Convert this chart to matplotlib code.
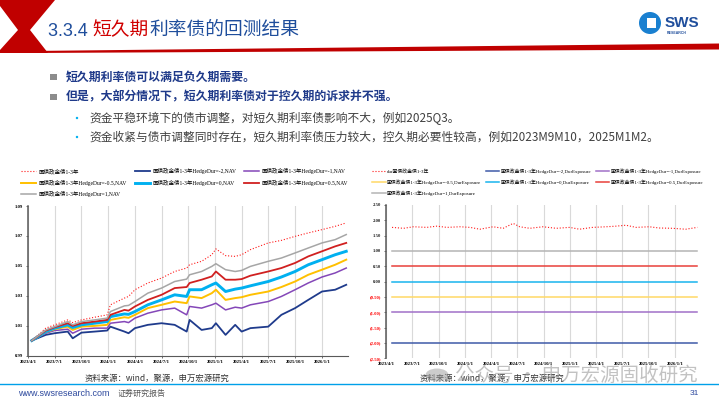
import numpy as np
import pandas as pd
import matplotlib
matplotlib.use("Agg")
import matplotlib.pyplot as plt
from matplotlib.patches import Polygon, Circle, Rectangle

plt.rcParams['font.family'] = ['Noto Sans CJK SC', 'DejaVu Sans']

W, H = 719, 405
SERIF = ['Liberation Serif', 'Noto Sans CJK SC']
SANS = ['Liberation Sans', 'Noto Sans CJK SC']

# ---------------- left chart: NAV backtest ----------------
nav_dates = pd.to_datetime([
    '2023-04-14', '2023-06-01', '2023-07-01', '2023-08-15', '2023-09-01',
    '2023-10-01', '2023-11-15', '2023-12-28', '2024-01-08', '2024-02-25',
    '2024-03-10', '2024-04-01', '2024-05-15', '2024-07-01', '2024-08-15',
    '2024-09-25', '2024-10-05', '2024-11-15', '2024-12-20', '2025-01-03',
    '2025-02-05', '2025-03-10', '2025-04-01', '2025-05-01', '2025-07-01',
    '2025-08-15', '2025-10-01', '2025-11-15', '2026-01-01', '2026-02-15',
    '2026-03-25'])
nav_bond = [1.0000, 1.0083, 1.0105, 1.0138, 1.0120, 1.0138, 1.0156, 1.0172, 1.0239, 1.0284,
            1.0295, 1.0340, 1.0385, 1.0418, 1.0462, 1.0485, 1.0507, 1.0530, 1.0574, 1.0613,
            1.0568, 1.0563, 1.0574, 1.0608, 1.0653, 1.0670, 1.0697, 1.0720, 1.0742, 1.0764,
            1.0787]
nav_hd_m2 = [1.0000, 1.0038, 1.0049, 1.0060, 1.0015, 1.0053, 1.0060, 1.0067, 1.0093, 1.0060,
             1.0049, 1.0083, 1.0105, 1.0116, 1.0105, 1.0060, 1.0138, 1.0071, 1.0083, 1.0116,
             1.0038, 1.0105, 1.0060, 1.0083, 1.0093, 1.0172, 1.0217, 1.0272, 1.0328, 1.0340,
             1.0373]
nav_hd_m1 = [1.0000, 1.0049, 1.0067, 1.0076, 1.0049, 1.0076, 1.0083, 1.0083, 1.0116, 1.0127,
             1.0120, 1.0150, 1.0183, 1.0205, 1.0217, 1.0172, 1.0228, 1.0217, 1.0239, 1.0250,
             1.0205, 1.0223, 1.0217, 1.0239, 1.0261, 1.0295, 1.0340, 1.0385, 1.0425, 1.0452,
             1.0485]
nav_hd_m05 = [1.0000, 1.0056, 1.0076, 1.0093, 1.0071, 1.0093, 1.0098, 1.0105, 1.0138, 1.0156,
              1.0152, 1.0172, 1.0217, 1.0239, 1.0261, 1.0250, 1.0295, 1.0284, 1.0317, 1.0340,
              1.0272, 1.0284, 1.0290, 1.0306, 1.0328, 1.0358, 1.0395, 1.0440, 1.0474, 1.0507,
              1.0541]
nav_hd_0 = [1.0000, 1.0060, 1.0083, 1.0105, 1.0087, 1.0105, 1.0116, 1.0127, 1.0160, 1.0178,
            1.0175, 1.0194, 1.0239, 1.0272, 1.0306, 1.0295, 1.0340, 1.0340, 1.0373, 1.0385,
            1.0328, 1.0344, 1.0351, 1.0366, 1.0395, 1.0425, 1.0462, 1.0507, 1.0541, 1.0574,
            1.0597]
nav_hd_05 = [1.0000, 1.0067, 1.0089, 1.0116, 1.0098, 1.0116, 1.0127, 1.0138, 1.0172, 1.0205,
             1.0200, 1.0228, 1.0272, 1.0306, 1.0351, 1.0358, 1.0385, 1.0407, 1.0429, 1.0462,
             1.0407, 1.0407, 1.0411, 1.0434, 1.0462, 1.0485, 1.0519, 1.0563, 1.0597, 1.0630,
             1.0653]
nav_hd_1 = [1.0000, 1.0071, 1.0093, 1.0127, 1.0105, 1.0127, 1.0138, 1.0150, 1.0194, 1.0232,
            1.0235, 1.0261, 1.0317, 1.0351, 1.0395, 1.0411, 1.0440, 1.0462, 1.0496, 1.0514,
            1.0474, 1.0462, 1.0469, 1.0496, 1.0530, 1.0552, 1.0586, 1.0619, 1.0653, 1.0675,
            1.0709]

# ---------------- right chart: duration exposure ----------------
dur_dates = pd.to_datetime([
    '2023-04-22', '2023-06-01', '2023-07-06', '2023-08-21', '2023-09-25', '2023-10-30',
    '2023-12-15', '2024-01-19', '2024-02-22', '2024-04-08', '2024-05-13', '2024-06-17',
    '2024-07-10', '2024-08-14', '2024-09-29', '2024-11-14', '2024-12-31', '2025-02-03',
    '2025-03-21', '2025-05-07', '2025-06-10', '2025-07-15', '2025-08-19', '2025-10-04',
    '2025-11-08', '2025-12-24', '2026-02-08', '2026-03-21'])
dur_bond = [1.77, 1.74, 1.79, 1.77, 1.81, 1.77, 1.79, 1.77, 1.71, 1.79, 1.74, 1.90, 1.79, 1.74,
            1.79, 1.74, 1.77, 1.71, 1.77, 1.79, 1.81, 1.84, 1.77, 1.79, 1.75, 1.74, 1.71, 1.77]
hedge_span = pd.to_datetime(['2023-04-22', '2026-03-21'])
hedge_levels = [-2, -1, -0.5, 0, 0.5, 1]

tick_dates = pd.date_range('2023-04-01', '2026-01-01', freq='QS')
tick_labels = [f"{d.year}/{d.month}/{d.day}" for d in tick_dates]

nav_series = [
    ('国债政金债1-3年', nav_bond, '#ff1a1a', 0.8, ':'),
    ('国债政金债1-3年HedgeDur=-2,NAV', nav_hd_m2, '#1f3b8c', 1.3, '-'),
    ('国债政金债1-3年HedgeDur=-1,NAV', nav_hd_m1, '#8447b8', 1.1, '-'),
    ('国债政金债1-3年HedgeDur=-0.5,NAV', nav_hd_m05, '#ffc000', 1.4, '-'),
    ('国债政金债1-3年HedgeDur=0,NAV', nav_hd_0, '#00b0f0', 2.1, '-'),
    ('国债政金债1-3年HedgeDur=0.5,NAV', nav_hd_05, '#d02020', 1.3, '-'),
    ('国债政金债1-3年HedgeDur=1,NAV', nav_hd_1, '#a6a6a6', 1.1, '-'),
]
exp_colors = {-2: '#3f5aa8', -1: '#a070c8', -0.5: '#ffd966', 0: '#19b4ee', 0.5: '#e8403a', 1: '#b4b4b4'}


def px_box(l, t, r, b):
    return [l / W, 1 - b / H, (r - l) / W, (b - t) / H]


def row_order(items):
    # legend fills column-wise; reorder so that rows read left to right
    return [items[i] for i in (0, 3, 6, 1, 4, 2, 5)]


fig = plt.figure(figsize=(W / 100, H / 100), dpi=100)
bg = fig.add_axes([0, 0, 1, 1])
bg.set_xlim(0, W)
bg.set_ylim(H, 0)
bg.axis('off')

# header: red chevron, rule, title, logo
bg.add_patch(Polygon([(0, 0), (55, 0), (30, 30), (48, 53), (0, 53)], closed=True, color='#c00000', lw=0))
bg.add_patch(Polygon([(0, 6), (18, 30), (0, 50)], closed=True, color='white', lw=0))
bg.add_patch(Polygon([(30, 53), (719, 49.5), (719, 43.5), (30, 51)], closed=True, color='#c00000', lw=0))

t1 = bg.text(48, 36, '3.3.4 ', fontsize=13, color='#1f4e9c', family=SANS, va='baseline')
t2 = bg.annotate('短久期', xy=(1, 0), xycoords=t1, fontsize=13.5, color='#d00000', va='bottom')
bg.annotate('利率债的回测结果', xy=(1, 0), xycoords=t2, fontsize=13.5, color='#1f4e9c', va='bottom')

bg.add_patch(Circle((650, 23), 11, color='#1a80d0', lw=0))
bg.add_patch(Rectangle((647, 18), 9, 10, color='white', lw=0))
bg.text(665, 23, 'SWS', fontsize=11, weight='bold', color='#1f4e9c', family=SANS, va='center')
bg.text(667, 33.5, 'RESEARCH', fontsize=2.5, weight='bold', color='#1f4e9c', family=SANS, va='center')

# bullets
bullets = [
    (77, '短久期利率债可以满足负久期需要。', 1),
    (97, '但是，大部分情况下，短久期利率债对于控久期的诉求并不强。', 1),
    (118, '资金平稳环境下的债市调整，对短久期利率债影响不大，例如2025Q3。', 2),
    (137, '资金收紧与债市调整同时存在，短久期利率债压力较大，控久期必要性较高，例如2023M9M10，2025M1M2。', 2),
]
for y, txt, level in bullets:
    if level == 1:
        bg.add_patch(Rectangle((50, y - 3.5), 6.5, 6.5, color='#8c8c8c', lw=0))
        bg.text(66, y, txt, fontsize=8.6, weight='bold', color='#1f3a8a', va='center')
    else:
        bg.add_patch(Circle((77, y), 1.2, color='#00b0f0', lw=0))
        bg.text(89, y, txt, fontsize=8.45, color='#404040', va='center')

# sources and footer
bg.text(85, 378, '资料来源：wind，聚源，申万宏源研究', fontsize=6, color='#333333', va='center')
bg.text(420, 378, '资料来源：wind，聚源，申万宏源研究', fontsize=6, color='#333333', va='center')
bg.plot([0, W], [384, 384], color='#00a0e9', lw=1)
bg.text(18, 393.5, 'www.swsresearch.com', fontsize=6.5, color='#2e4a9e', family=SANS, va='center')
bg.text(118, 393.5, '证券研究报告', fontsize=5.8, color='#555555', va='center')
bg.text(699, 393.5, '31', fontsize=6, color='#2e4a9e', family=SANS, va='center', ha='right')

# ---------------- left chart ----------------
ax1 = fig.add_axes(px_box(28, 206, 348, 355.5))
handles = []
for label, vals, color, lw, ls in nav_series:
    line, = ax1.plot(nav_dates, vals, color=color, lw=lw, ls=ls, label=label)
    handles.append(line)
ax1.set_xlim(pd.Timestamp('2023-04-01'), pd.Timestamp('2026-03-31'))
ax1.set_ylim(0.99, 1.09)
ax1.set_yticks(np.arange(0.99, 1.0901, 0.02))
ax1.set_yticklabels([f"{v:.2f}" for v in np.arange(0.99, 1.0901, 0.02)])
ax1.set_xticks(tick_dates)
ax1.set_xticklabels(tick_labels)
ax1.grid(axis='x', color='#d9d9d9', lw=0.8)
ax1.set_axisbelow(True)
for s in ('top', 'right'):
    ax1.spines[s].set_visible(False)
ax1.spines['left'].set_color('#595959')
ax1.spines['left'].set_linewidth(1.1)
ax1.spines['bottom'].set_color('#595959')
ax1.spines['bottom'].set_linewidth(0.8)
ax1.tick_params(axis='both', length=1.5, width=0.6, color='#595959', pad=2)
for lab in ax1.get_xticklabels() + ax1.get_yticklabels():
    lab.set_fontfamily(SERIF)
    lab.set_fontweight('bold')
    lab.set_fontsize(3.4)
ax1.legend(handles=row_order(handles), loc='upper left', bbox_to_anchor=(21 / W, 1 - 168 / H),
           bbox_transform=fig.transFigure, ncol=3, frameon=False, prop={'family': SERIF, 'size': 4},
           handlelength=2.7, handletextpad=0.4, columnspacing=1.5, labelspacing=0.95,
           borderaxespad=0, borderpad=0)

# ---------------- right chart ----------------
ax2 = fig.add_axes(px_box(386, 205, 698, 358.3))
h2 = []
line, = ax2.plot(dur_dates, dur_bond, color='#ff1a1a', lw=0.8, ls=':', label='dur国债政金债1-3年')
h2.append(line)
for lv in hedge_levels:
    line, = ax2.plot(hedge_span, [lv, lv], color=exp_colors[lv], lw=1.1,
                     label=f'国债政金债1-3年HedgeDur={lv:g},DurExposure')
    h2.append(line)
ax2.set_xlim(pd.Timestamp('2023-04-01'), pd.Timestamp('2026-03-23'))
ax2.set_ylim(-2.5, 2.5)
yv = np.arange(2.5, -2.501, -0.5)
ax2.set_yticks(yv)
ax2.set_yticklabels([f"{v:.2f}" if v >= -1e-9 else f"({abs(v):.2f})" for v in yv])
for lab, v in zip(ax2.get_yticklabels(), yv):
    lab.set_color('#222222' if v >= -1e-9 else '#ff0000')
ax2.set_xticks(tick_dates)
ax2.set_xticklabels(tick_labels)
ax2.grid(axis='x', color='#d9d9d9', lw=0.8)
ax2.set_axisbelow(True)
for s in ('top', 'right', 'bottom'):
    ax2.spines[s].set_visible(False)
ax2.spines['left'].set_color('#595959')
ax2.spines['left'].set_linewidth(1.1)
ax2.tick_params(axis='y', length=1.5, width=0.6, color='#595959', pad=2)
ax2.tick_params(axis='x', length=0, pad=3)
for lab in ax2.get_xticklabels() + ax2.get_yticklabels():
    lab.set_fontfamily(SERIF)
    lab.set_fontweight('bold')
    lab.set_fontsize(3.4)
ax2.legend(handles=row_order(h2), loc='upper left', bbox_to_anchor=(372 / W, 1 - 168 / H),
           bbox_transform=fig.transFigure, ncol=3, frameon=False, prop={'family': SERIF, 'size': 3.5},
           handlelength=2.8, handletextpad=0.3, columnspacing=0.9, labelspacing=1.15,
           borderaxespad=0, borderpad=0)

# watermark over the right source line
fig.patches.append(Circle((437 / W, 1 - 375 / H), 0.016, transform=fig.transFigure,
                          color='#9a9a9a', alpha=0.5, lw=0, zorder=5))
fig.text(455 / W, 1 - 375 / H, '公众号 · 申万宏源固收研究', fontsize=14, color='#9a9a9a',
         alpha=0.6, va='center', zorder=6)

fig.savefig('out.png', dpi=100)
